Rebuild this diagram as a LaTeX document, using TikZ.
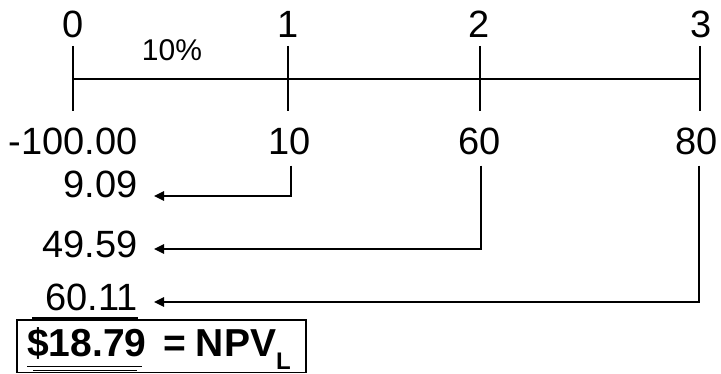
\documentclass[tikz,border=0pt]{standalone}
\usepackage{fontspec}
\setmainfont{Liberation Sans}
\usetikzlibrary{arrows.meta}
\tikzset{
  num/.style={inner sep=0pt, font=\fontsize{38}{38}\selectfont},
  rate/.style={inner sep=0pt, font=\fontsize{30}{30}\selectfont},
  bnum/.style={inner sep=0pt, font=\fontsize{39}{39}\selectfont\bfseries},
  axis/.style={line width=2pt},
  conn/.style={line width=2.4pt, -{Triangle[length=10pt,width=9pt]}},
  rule/.style={line width=1.6pt},
  frame/.style={line width=1.3pt}
}
\begin{document}
\begin{tikzpicture}[x=1pt,y=-1pt]
\useasboundingbox (0,0) rectangle (721,374);
% time axis
\coordinate (t0) at (73,79);
\coordinate (t1) at (288,79);
\coordinate (t2) at (480,79);
\coordinate (t3) at (700,79);
\draw[axis] (t0) -- (t3);
\foreach \t in {t0,t1,t2,t3} \draw[axis] ([yshift=33pt]\t) -- ([yshift=-32pt]\t);
% period labels
\node[num, anchor=base] (p0) at (73,38) {0};
\node[num, anchor=base] (p1) at (288,38) {1};
\node[num, anchor=base] (p2) at (479,38) {2};
\node[num, anchor=base] (p3) at (701,38) {3};
\node[rate, anchor=base] (r) at (172,61) {10\%};
% cash flows
\node[num, anchor=base east] (v0) at (138,155) {-100.00};
\node[num, anchor=base] (v1) at (290,155) {10};
\node[num, anchor=base] (v2) at (480,155) {60};
\node[num, anchor=base] (v3) at (697,155) {80};
% present values
\node[num, anchor=base east] (d1) at (138,198) {9.09};
\node[num, anchor=base east] (d2) at (138,258) {49.59};
\node[num, anchor=base east] (d3) at (138,311) {60.11};
\coordinate (e1) at (154,196);
\coordinate (e2) at (154,249);
\coordinate (e3) at (154,302);
\draw[conn] ([yshift=-10pt]v1.south) ++(1,0) |- (e1);
\draw[conn] ([yshift=-10pt]v2.south) ++(1,0) |- (e2);
\draw[conn] ([yshift=-10pt]v3.south) ++(2,0) |- (e3);
\draw[rule] (32,318) -- (138,318);
% result box
\draw[frame] (17,320) rectangle (306,372.5);
\node[bnum, anchor=base west] (npv) at (27,357) {\$18.79};
\draw[rule] (27,366.5) -- (142,366.5);
\draw[rule] (33,370.5) -- (137,370.5);
\node[bnum, anchor=base west] (eq) at (163,357) {=\hspace{10pt}NPV\raisebox{-13pt}{\fontsize{24}{24}\selectfont L}};
\end{tikzpicture}
\end{document}
